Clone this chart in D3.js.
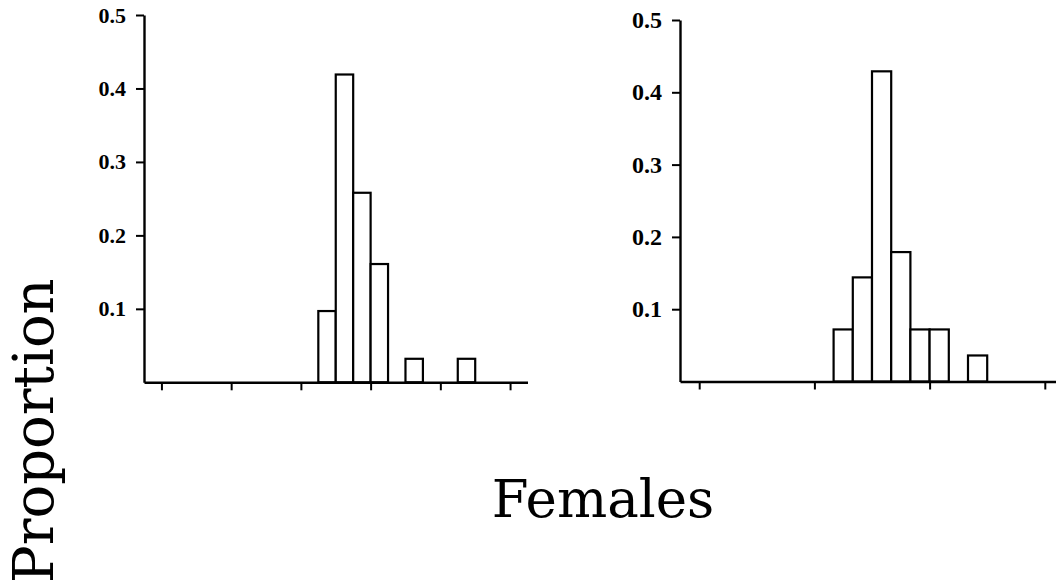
<!DOCTYPE html>
<html>
<head>
<meta charset="utf-8">
<script src="https://cdn.jsdelivr.net/npm/d3@7"></script>
<style>
  html, body { margin: 0; padding: 0; background: #fff; }
  svg { display: block; }
</style>
</head>
<body>
<svg id="chart" width="1056" height="586"></svg>
<script>
// Histogram bins (index along the size axis) and proportions, left panel
const leftBins   = [9, 10, 11, 12, 14, 17];
const leftValues = [0.097, 0.419, 0.258, 0.161, 0.032, 0.032];
const leftXTicks = [0, 4, 8, 12, 16, 20];

// Right panel
const rightBins   = [7, 8, 9, 10, 11, 12, 14];
const rightValues = [0.072, 0.144, 0.429, 0.179, 0.072, 0.072, 0.036];
const rightXTicks = [0, 6, 12, 18];

const yTicks = [0.1, 0.2, 0.3, 0.4, 0.5];
const yTickLabels = ["0.1", "0.2", "0.3", "0.4", "0.5"];

const svg = d3.select("#chart");

function drawPanel(cfg) {
  const x = d3.scaleLinear().domain(cfg.xDomain).range(cfg.xRange);
  const y = d3.scaleLinear().domain([0, 0.5]).range(cfg.yRange);
  const g = svg.append("g");

  // bars
  const data = cfg.bins.map((b, i) => ({ bin: b, v: cfg.values[i] }));
  g.selectAll("rect.bar").data(data).enter().append("rect")
    .attr("class", "bar")
    .attr("x", d => x(d.bin))
    .attr("width", d => x(d.bin + 1) - x(d.bin))
    .attr("y", d => y(d.v))
    .attr("height", d => y(0) - y(d.v))
    .attr("fill", "#fff")
    .attr("stroke", "#000")
    .attr("stroke-width", 2.2);

  // x axis (unlabelled ticks)
  const xAxis = d3.axisBottom(x).tickValues(cfg.xTicks).tickFormat("")
    .tickSize(8).tickSizeOuter(0);
  const gx = g.append("g").attr("transform", `translate(0,${y(0)})`).call(xAxis);
  gx.select(".domain").attr("stroke-width", 2.4);
  gx.selectAll(".tick line").attr("stroke-width", 2);

  // y axis
  const yAxis = d3.axisLeft(y).tickValues(yTicks)
    .tickFormat((d, i) => yTickLabels[i]).tickSize(8).tickSizeOuter(0).tickPadding(10);
  const gy = g.append("g").attr("transform", `translate(${x(cfg.xDomain[0])},0)`).call(yAxis);
  gy.select(".domain").attr("stroke-width", 2.4);
  gy.selectAll(".tick line").attr("stroke-width", 2);
  gy.selectAll(".tick text")
    .attr("font-family", "'Liberation Serif', serif")
    .attr("font-weight", "bold")
    .attr("font-size", cfg.labelSize)
    .attr("fill", "#000");
}

drawPanel({
  bins: leftBins, values: leftValues, xTicks: leftXTicks,
  xDomain: [-1, 21], xRange: [144, 527.5], yRange: [382.3, 15], labelSize: 22
});

drawPanel({
  bins: rightBins, values: rightValues, xTicks: rightXTicks,
  xDomain: [-1, 19.5], xRange: [680, 1073.6], yRange: [381.5, 20], labelSize: 24
});

// axis titles
svg.append("text")
  .attr("transform", "translate(53,583) rotate(-90)")
  .attr("text-anchor", "start")
  .attr("font-family", "'DejaVu Serif', serif")
  .attr("font-size", 56)
  .attr("fill", "#000")
  .text("Proportion");

svg.append("text")
  .attr("x", 603).attr("y", 517)
  .attr("text-anchor", "middle")
  .attr("font-family", "'DejaVu Serif', serif")
  .attr("font-size", 53)
  .attr("fill", "#000")
  .text("Females");
</script>
</body>
</html>
